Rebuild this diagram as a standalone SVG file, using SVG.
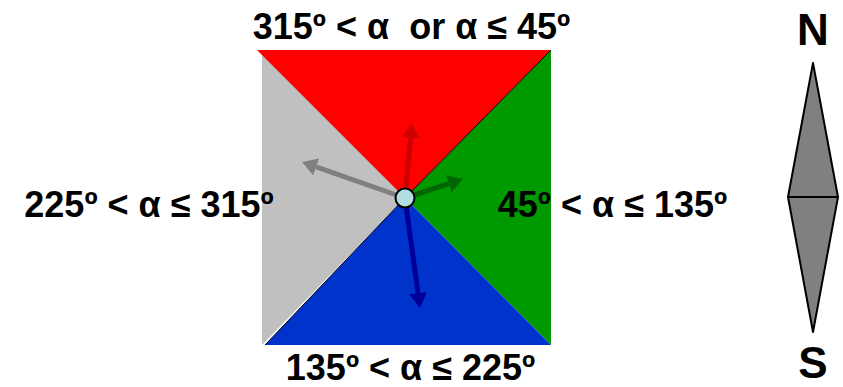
<svg xmlns="http://www.w3.org/2000/svg" width="843" height="387" viewBox="0 0 843 387">
  <style>
    .lbl { font-family: "Liberation Sans", Arial, sans-serif; font-weight: bold; font-size: 36px; fill: #000; text-anchor: middle; white-space: pre; }
    .big { font-size: 44px; }
    .shaft { stroke-width: 5; fill: none; stroke-linecap: butt; }
    .edge { stroke: #000; stroke-width: 1; }
    .needle { fill: #808080; stroke: #000; stroke-width: 2; stroke-linejoin: round; }
  </style>
  <defs>
    <marker id="hRed" markerUnits="userSpaceOnUse" markerWidth="16" markerHeight="18" refX="0" refY="9" orient="auto"><path d="M0,0 L15,9 L0,18 z" fill="#cc0000"/></marker>
    <marker id="hGray" markerUnits="userSpaceOnUse" markerWidth="16" markerHeight="18" refX="0" refY="9" orient="auto"><path d="M0,0 L15,9 L0,18 z" fill="#808080"/></marker>
    <marker id="hGreen" markerUnits="userSpaceOnUse" markerWidth="16" markerHeight="18" refX="0" refY="9" orient="auto"><path d="M0,0 L15,9 L0,18 z" fill="#006600"/></marker>
    <marker id="hBlue" markerUnits="userSpaceOnUse" markerWidth="16" markerHeight="18" refX="0" refY="9" orient="auto"><path d="M0,0 L15,9 L0,18 z" fill="#000099"/></marker>
  </defs>

  <g id="sector-west"><polygon points="262,50 262,345 405,198" fill="#c0c0c0"/></g>
  <g id="sector-east"><polygon points="551,50 551,345 405,198" fill="#009900"/></g>
  <g id="sector-north"><polygon points="257,50 551,50 405,198" fill="#ff0000"/></g>
  <g id="sector-south"><polygon points="265,345 551,345 405,198" fill="#0033cc"/></g>
  <g id="diagonals">
    <line class="edge" x1="405" y1="198" x2="265" y2="345"/>
    <line class="edge" x1="405" y1="198" x2="551" y2="50"/>
  </g>

  <g id="connectors">
    <line class="shaft" stroke="#cc0000" x1="405" y1="198" x2="410.6" y2="137.9" marker-end="url(#hRed)"/>
    <line class="shaft" stroke="#808080" x1="405" y1="198" x2="316.2" y2="166.9" marker-end="url(#hGray)"/>
    <line class="shaft" stroke="#006600" x1="405" y1="198" x2="448.7" y2="183.7" marker-end="url(#hGreen)"/>
    <line class="shaft" stroke="#000099" x1="405" y1="198" x2="418" y2="293.1" marker-end="url(#hBlue)"/>
  </g>

  <g id="center"><circle cx="405" cy="198" r="9.5" fill="#b0dde0" stroke="#000" stroke-width="2"/></g>

  <g id="label-north"><text class="lbl" x="411.5" y="39" xml:space="preserve">315º &lt; α  or α ≤ 45º</text></g>
  <g id="label-south"><text class="lbl" x="410.5" y="380">135º &lt; α ≤ 225º</text></g>
  <g id="label-west"><text class="lbl" x="149" y="217">225º &lt; α ≤ 315º</text></g>
  <g id="label-east"><text class="lbl" x="612.5" y="217">45º &lt; α ≤ 135º</text></g>

  <g id="compass">
    <polygon class="needle" points="813,63 838,197 788,197"/>
    <polygon class="needle" points="788,197 838,197 813,332"/>
    <text class="lbl big" x="813" y="45">N</text>
    <text class="lbl big" x="813" y="378">S</text>
  </g>
</svg>
